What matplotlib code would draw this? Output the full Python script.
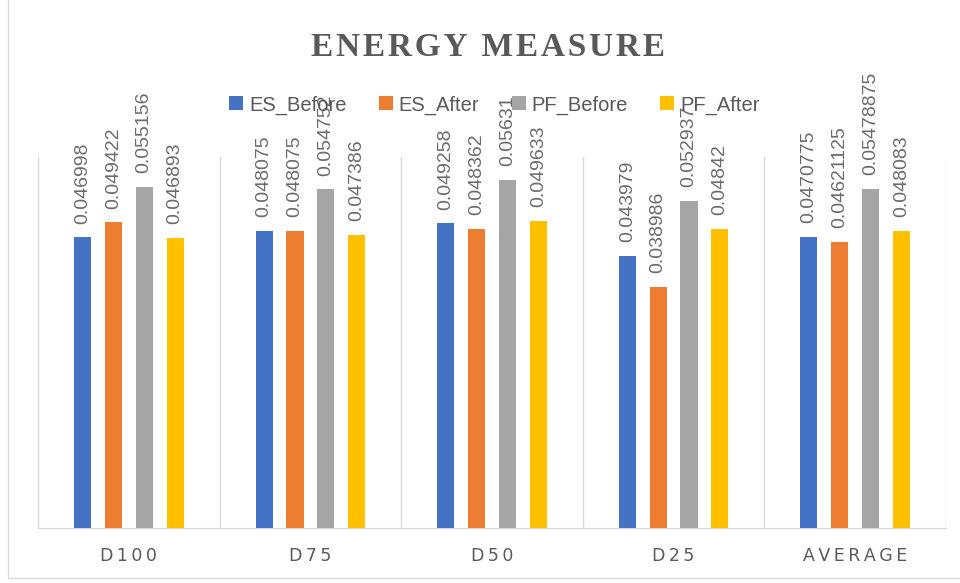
import matplotlib
matplotlib.use("Agg")
import matplotlib.pyplot as plt
from matplotlib.patches import Rectangle
import numpy as np

# energy values per dataset size, before/after for ES and PF
categories = ["D100", "D75", "D50", "D25", "AVERAGE"]
es_before = [0.046998, 0.048075, 0.049258, 0.043979, 0.0470775]
es_after = [0.049422, 0.048075, 0.048362, 0.038986, 0.04621125]
pf_before = [0.055156, 0.054752, 0.05631, 0.052937, 0.05478875]
pf_after = [0.046893, 0.047386, 0.049633, 0.04842, 0.048083]

series = [("ES_Before", es_before, "#4472C4"),
          ("ES_After", es_after, "#ED7D31"),
          ("PF_Before", pf_before, "#A5A5A5"),
          ("PF_After", pf_after, "#FFC000")]

txt = "#595959"
fig = plt.figure(figsize=(9.6, 5.83), dpi=100)
ax = fig.add_axes([0.0396, 0.0943, 0.9458, 0.6364])

x = np.arange(len(categories))
width = 0.094
step = 0.17
for i, (name, vals, col) in enumerate(series):
    pos = x + (i - 1.5) * step
    ax.bar(pos, vals, width, color=col, label=name, zorder=3)
    for px, v in zip(pos, vals):
        ax.annotate(str(v), (px, v), xytext=(0, 10), textcoords="offset points",
                    rotation=90, ha="center", va="bottom", color="#6b6b6b",
                    fontsize=14, family="Liberation Sans", zorder=2)

ax.set_xlim(-0.5, len(categories) - 0.5)
ax.set_ylim(0, 0.06)
ax.set_yticks([])
ax.set_xticks(x)
ax.set_xticklabels(["\u2009".join(c) for c in categories], color=txt, fontsize=12.5,
                   family="DejaVu Sans")
ax.tick_params(axis="x", length=0, pad=14)
# category separators
for b in np.arange(-0.5, len(categories), 1.0):
    ax.axvline(b, color="#D9D9D9", lw=1, zorder=1)
for s in ["top", "right", "left"]:
    ax.spines[s].set_visible(False)
ax.spines["bottom"].set_color("#D9D9D9")

fig.text(0.508, 0.918, "\u200a".join("ENERGY MEASURE"), ha="center", va="center",
         fontsize=24, fontweight="bold", color=txt,
         family=["Liberation Serif", "DejaVu Serif"])

leg = fig.legend(loc="center", bbox_to_anchor=(0.515, 0.82), ncol=4, frameon=False,
                 handlelength=0.7, handleheight=0.7,
                 handletextpad=0.3, columnspacing=1.6,
                 prop={"family": "Liberation Sans", "size": 14.5})
for t in leg.get_texts():
    t.set_color(txt)

fig.patches.append(Rectangle((8 / 960, 5 / 583), 1.2, 1.2, transform=fig.transFigure,
                             fill=False, edgecolor="#D9D9D9", lw=1))

fig.savefig("out.png", dpi=100)
